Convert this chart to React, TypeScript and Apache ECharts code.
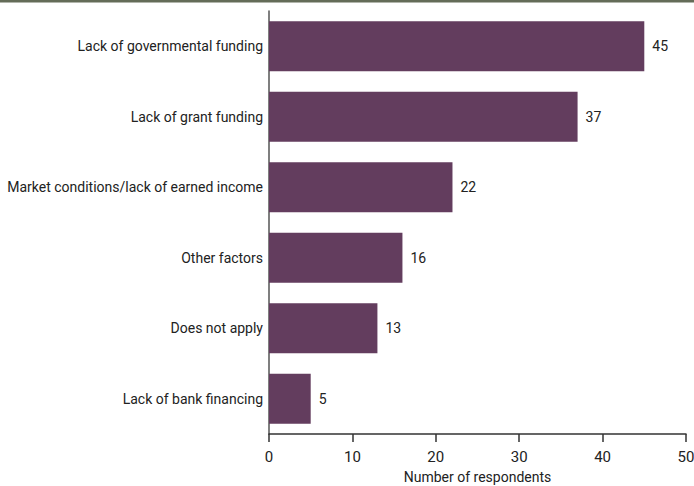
import React, { useEffect, useRef } from "react";
import * as echarts from "echarts";

const categories = [
  "Lack of governmental funding",
  "Lack of grant funding",
  "Market conditions/lack of earned income",
  "Other factors",
  "Does not apply",
  "Lack of bank financing",
];
const values = [45, 37, 22, 16, 13, 5];
const xTicks = [0, 10, 20, 30, 40, 50];

const FONT = "Roboto, 'Liberation Sans', sans-serif";

export default function App() {
  const ref = useRef<HTMLDivElement>(null);
  useEffect(() => {
    const chart = echarts.init(ref.current!, null, { renderer: "svg" });
    chart.setOption({
      animation: false,
      textStyle: { fontFamily: FONT },
      graphic: [
        {
          type: "rect",
          shape: { x: 0, y: 0, width: 694, height: 2.5 },
          style: { fill: "#646c58" },
        },
      ],
      grid: {
        left: 269,
        right: 8,
        top: 11,
        bottom: 52,
        containLabel: false,
        outerBoundsMode: "none",
      },
      xAxis: {
        type: "value",
        min: xTicks[0],
        max: xTicks[xTicks.length - 1],
        interval: 10,
        splitLine: { show: false },
        axisLine: { show: true, lineStyle: { color: "#333", width: 1.5 } },
        axisTick: { show: true, length: 8, lineStyle: { color: "#333", width: 1.5 } },
        axisLabel: { color: "#222", fontSize: 15, fontFamily: FONT, margin: 15 },
        name: "Number of respondents",
        nameLocation: "middle",
        nameGap: 36,
        nameTextStyle: { color: "#222", fontSize: 14, fontFamily: FONT },
      },
      yAxis: {
        type: "category",
        data: categories,
        inverse: true,
        axisLine: { show: true, lineStyle: { color: "#555", width: 1.5 } },
        axisTick: { show: false },
        axisLabel: { color: "#222", fontSize: 14, fontFamily: FONT, margin: 6 },
      },
      series: [
        {
          type: "bar",
          data: values,
          barCategoryGap: "29%",
          itemStyle: { color: "#633d5e" },
          label: {
            show: true,
            position: "right",
            distance: 8,
            color: "#222",
            fontSize: 14,
            fontFamily: FONT,
          },
        },
      ],
    });
    return () => chart.dispose();
  }, []);
  return (
    <div
      ref={ref}
      style={{ position: "fixed", left: 0, top: 0, width: 694, height: 486, background: "#fff" }}
    />
  );
}
